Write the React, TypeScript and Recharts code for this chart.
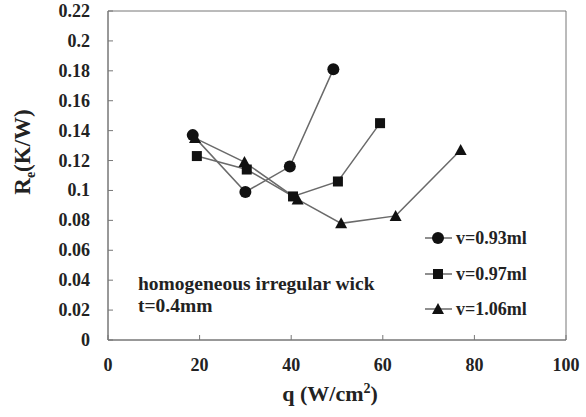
import { LineChart, Line, XAxis, YAxis, ReferenceArea, Label } from "recharts";

// q (W/cm2) vs Re (K/W) for three charge volumes
const q093 = [18.5, 30, 39.7, 49.2];
const re093 = [0.137, 0.099, 0.116, 0.181];
const q097 = [19.4, 30.3, 40.4, 50.2, 59.4];
const re097 = [0.123, 0.114, 0.096, 0.106, 0.145];
const q106 = [19, 29.8, 41.4, 50.9, 62.8, 77];
const re106 = [0.135, 0.119, 0.094, 0.078, 0.083, 0.127];

const xTicks = [0, 20, 40, 60, 80, 100];
const yTicks = [0, 0.02, 0.04, 0.06, 0.08, 0.1, 0.12, 0.14, 0.16, 0.18, 0.2, 0.22];
const seriesNames = ["v=0.93ml", "v=0.97ml", "v=1.06ml"];

const FONT = "Liberation Serif";
const LINE = "#6a6a6a";
const AXIS = "#777";
const txt = { fontFamily: FONT, fontWeight: 700 } as const;

const zip = (xs: number[], ys: number[]) => xs.map((q, i) => ({ q, re: ys[i] }));

function Marker({ kind, cx, cy }: { kind: string; cx: number; cy: number }) {
  if (kind === "circle") return <circle cx={cx} cy={cy} r={6} fill="#111" />;
  if (kind === "square") return <rect x={cx - 5} y={cy - 5} width={10} height={10} fill="#111" />;
  return <polygon points={`${cx},${cy - 6} ${cx - 6},${cy + 5} ${cx + 6},${cy + 5}`} fill="#111" />;
}

const dot = (kind: string) => (p: any) => (
  <Marker key={`${kind}-${p.index}`} kind={kind} cx={p.cx} cy={p.cy} />
);

const XTick = (p: any) => (
  <g>
    <line x1={p.x} y1={p.y} x2={p.x} y2={p.y - 5} stroke={AXIS} />
    <text x={p.x} y={p.y + 31} textAnchor="middle" style={txt} fontSize={18} fill="#222">
      {p.payload.value}
    </text>
  </g>
);

const YTick = (p: any) => (
  <g>
    <line x1={p.x} y1={p.y} x2={p.x + 5} y2={p.y} stroke={AXIS} />
    <text x={p.x - 18} y={p.y + 6} textAnchor="end" style={txt} fontSize={18} fill="#222">
      {String(p.payload.value)}
    </text>
  </g>
);

const kinds = ["circle", "square", "triangle"];
const legendY = [238, 274, 309];

export default function App() {
  return (
    <div style={{ position: "absolute", left: 0, top: 0, width: 586, height: 417, background: "#fff" }}>
      <LineChart width={586} height={417} margin={{ top: 11, right: 20, bottom: 0, left: 0 }}>
        <XAxis
          type="number"
          dataKey="q"
          domain={[0, 100]}
          ticks={xTicks}
          allowDuplicatedCategory={false}
          height={77}
          stroke={AXIS}
          tickSize={0}
          tickMargin={0}
          tick={XTick}
        >
          <Label
            content={() => (
              <text x={330} y={401} textAnchor="middle" style={txt} fontSize={22} fill="#222">
                q (W/cm<tspan dy={-8} fontSize={14}>2</tspan>
                <tspan dy={8}>)</tspan>
              </text>
            )}
          />
        </XAxis>
        <YAxis
          type="number"
          domain={[0, 0.22]}
          ticks={yTicks}
          width={108}
          stroke={AXIS}
          tickSize={0}
          tickMargin={0}
          tick={YTick}
        >
          <Label
            content={() => (
              <text
                x={30}
                y={152}
                transform="rotate(-90 30 152)"
                textAnchor="middle"
                style={txt}
                fontSize={23}
                fill="#222"
              >
                R<tspan dy={5} fontSize={14}>e</tspan>
                <tspan dy={-5}>(K/W)</tspan>
              </text>
            )}
          />
        </YAxis>
        <ReferenceArea x1={0} x2={100} y1={0} y2={0.22} fill="none" stroke={AXIS} strokeWidth={1} />
        <Line data={zip(q093, re093)} dataKey="re" name={seriesNames[0]} stroke={LINE} strokeWidth={1.5} dot={dot("circle")} isAnimationActive={false} />
        <Line data={zip(q097, re097)} dataKey="re" name={seriesNames[1]} stroke={LINE} strokeWidth={1.5} dot={dot("square")} isAnimationActive={false} />
        <Line data={zip(q106, re106)} dataKey="re" name={seriesNames[2]} stroke={LINE} strokeWidth={1.5} dot={dot("triangle")} isAnimationActive={false} />
      </LineChart>
      <svg width={586} height={417} style={{ position: "absolute", left: 0, top: 0, pointerEvents: "none" }}>
        <text x={138} y={290} style={txt} fontSize={19.5} fill="#222">
          homogeneous irregular wick
        </text>
        <text x={138} y={312} style={txt} fontSize={19.5} fill="#222">
          t=0.4mm
        </text>
        {seriesNames.map((name, i) => (
          <g key={name}>
            <line x1={425} y1={legendY[i]} x2={452} y2={legendY[i]} stroke={LINE} strokeWidth={1.5} />
            <Marker kind={kinds[i]} cx={438} cy={legendY[i]} />
            <text x={456} y={legendY[i] + 6} style={txt} fontSize={18} fill="#222">
              {name}
            </text>
          </g>
        ))}
      </svg>
    </div>
  );
}
